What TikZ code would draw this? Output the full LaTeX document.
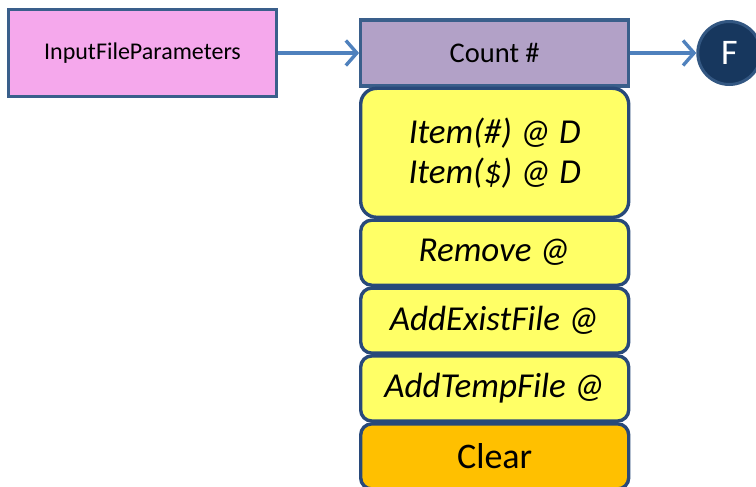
\documentclass[tikz,border=0pt]{standalone}
\usepackage{fontspec}
\setmainfont{Carlito}
\usetikzlibrary{arrows.meta,positioning}
\definecolor{box_pink}{HTML}{F5A8EC}
\definecolor{box_lilac}{HTML}{B2A1C7}
\definecolor{box_yellow}{HTML}{FFFF66}
\definecolor{box_orange}{HTML}{FFC000}
\definecolor{edge_blue}{HTML}{3A5F8B}
\definecolor{edge_navy}{HTML}{28497A}
\definecolor{dark_blue}{HTML}{17375E}
\definecolor{arrow_blue}{HTML}{4F81BD}
\begin{document}
\begin{tikzpicture}[
        x=1pt, y=1pt,
        flatbox/.style={rectangle, draw=edge_blue, line width=3.2pt, minimum width=268pt, inner sep=0},
        pinkbox/.style={flatbox, fill=box_pink, minimum height=87pt, font=\fontsize{24}{28}\selectfont},
        lilacbox/.style={flatbox, fill=box_lilac, minimum height=66pt, font=\fontsize{28.5}{34}\selectfont},
        stackbox/.style={rectangle, rounded corners=11pt, draw=edge_navy, line width=3.4pt, minimum width=268pt, minimum height=65pt, inner sep=0, fill=box_yellow, align=center, font=\fontsize{35}{40}\selectfont\itshape},
        clearbox/.style={stackbox, fill=box_orange, font=\fontsize{36}{40}\selectfont},
        endpoint/.style={circle, fill=dark_blue, draw=edge_blue!80!dark_blue, line width=3pt, minimum size=63pt, inner sep=0, text=white, font=\fontsize{36}{40}\selectfont},
        normalline/.style={-{Straight Barb[length=11pt, width=25pt]}, line width=3.4pt, draw=arrow_blue},
    ]
    \useasboundingbox (0,0) rectangle (756,-487);

    \node[pinkbox] (params) at (142.5,-53) {InputFileParameters};
    \node[lilacbox, right=81pt of params] (count) {Count \#};
    \node[endpoint, right=66pt of count] (fin) {F};

    \draw [normalline] (params) -- (count);
    \draw [normalline] (count) -- (fin);

    % ------------ Stack

    \node[stackbox, rounded corners=16pt, minimum height=129pt, below=-1pt of count] (item) {Item(\#) @ D\\Item(\$) @ D};
    \node[stackbox, below=-0.5pt of item] (remove) {Remove @};
    \node[stackbox, below=-0.5pt of remove] (addexist) {AddExistFile @};
    \node[stackbox, below=-0.5pt of addexist] (addtemp) {AddTempFile @};
    \node[clearbox, below=-0.5pt of addtemp] (clear) {Clear};

\end{tikzpicture}
\end{document}
